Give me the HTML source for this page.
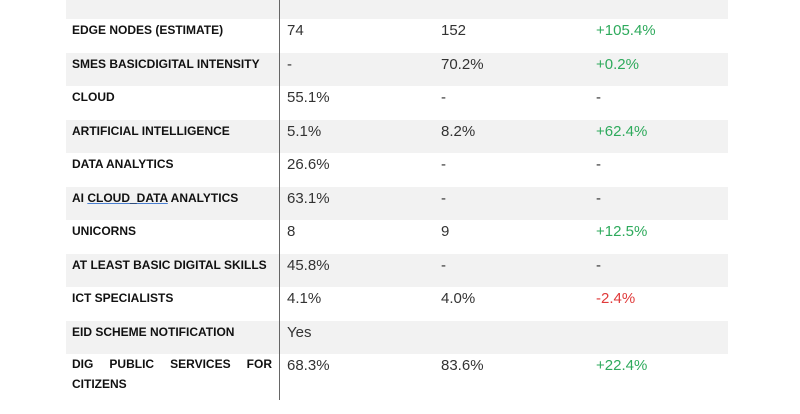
<!DOCTYPE html>
<html><head><meta charset="utf-8"><style>
body{margin:0;width:800px;height:400px;overflow:hidden;background:#fff;font-family:"Liberation Sans",Arial,sans-serif}
#t{position:absolute;left:0;top:0;width:800px;height:400px}
.row{position:absolute;left:66px;width:662px}
.g{background:#f2f2f2}
.c{position:absolute;top:3px;white-space:nowrap}
.lab{left:6px;font-weight:bold;font-size:12px;color:#111;top:4px}
.v{font-size:15px;color:#333}
.pos{color:#2eaa5c}.neg{color:#e03a3a}
#vline{position:absolute;left:279px;top:0;width:1px;height:400px;background:#666}
</style></head><body>
<div id="t">
<div class="row g" style="top:-14px;height:33px">
 <span class="c lab" style="top:2px">OVERALL 5G COVERAGE</span>
 <span class="c v" style="left:221px;top:1px">99.5%</span>
 <span class="c v" style="left:375px;top:1px">99.5%</span>
 <span class="c v" style="left:530px;top:1px">0.0%</span>
</div>
<div id="rows"></div>
<div id="vline"></div>
</div>
<script>
const labels=["EDGE NODES (ESTIMATE)","SMES BASICDIGITAL INTENSITY","CLOUD","ARTIFICIAL INTELLIGENCE","DATA ANALYTICS","AI CLOUD_DATA ANALYTICS","UNICORNS","AT LEAST BASIC DIGITAL SKILLS","ICT SPECIALISTS","EID SCHEME NOTIFICATION","DIG PUBLIC SERVICES FOR CITIZENS"];
const col2023=["74","-","55.1%","5.1%","26.6%","63.1%","8","45.8%","4.1%","Yes","68.3%"];
const col2024=["152","70.2%","-","8.2%","-","-","9","-","4.0%","","83.6%"];
const colChange=["+105.4%","+0.2%","-","+62.4%","-","-","+12.5%","-","-2.4%","","+22.4%"];
const wrap=document.getElementById('rows');
labels.forEach((l,i)=>{
 const r=document.createElement('div');
 
 
 r.className='row'+(i%2===1?' g':'');
 const top=19+i*33.5;
 r.style.top=top+'px';
 r.style.height=(i===labels.length-1?60:33.5)+'px';
 const a=document.createElement('span');
 
 
 a.className='c lab';
 if(l==="AI CLOUD_DATA ANALYTICS"){
  a.innerHTML='AI <span style="text-decoration:underline;text-decoration-color:#4a7fd0">CLOUD_DATA</span> ANALYTICS';
 } else if(i===labels.length-1){
  a.innerHTML='<span style="display:inline-block;width:200px;text-align:justify;text-align-last:justify">DIG PUBLIC SERVICES FOR</span><br>CITIZENS';
  a.style.lineHeight='20px';
  a.style.top='0px';
 } else a.textContent=l;
 r.appendChild(a);
 [[col2023,221],[col2024,375],[colChange,530]].forEach(([arr,x],k)=>{
  const s=document.createElement('span');
  
  
  let cls='c v';
  if(k===2){if(arr[i].startsWith('+'))cls+=' pos';else if(arr[i].startsWith('-')&&arr[i].length>1)cls+=' neg';}
  s.className=cls;
  s.style.left=x+'px';
  s.textContent=arr[i];
  r.appendChild(s);
 });
 wrap.appendChild(r);
});
</script>
</body></html>
